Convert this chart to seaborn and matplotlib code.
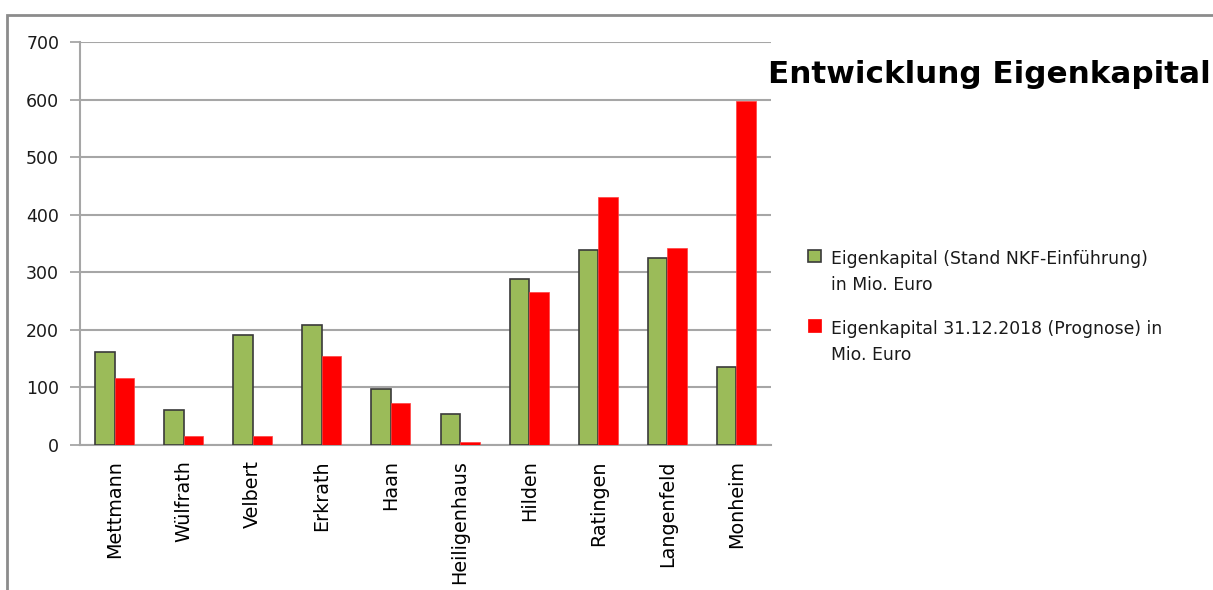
import matplotlib
matplotlib.use("Agg")
import matplotlib.pyplot as plt
from matplotlib.patches import Patch, Rectangle
from matplotlib.legend_handler import HandlerPatch
import seaborn as sns
import pandas as pd

staedte = ["Mettmann", "Wülfrath", "Velbert", "Erkrath", "Haan",
           "Heiligenhaus", "Hilden", "Ratingen", "Langenfeld", "Monheim"]
eigenkapital_nkf = [162, 61, 191, 209, 98, 53, 289, 338, 324, 136]
eigenkapital_2018 = [116, 16, 16, 155, 73, 5, 265, 430, 342, 598]
serie_labels = ["Eigenkapital (Stand NKF-Einführung)\nin Mio. Euro",
                "Eigenkapital 31.12.2018 (Prognose) in\nMio. Euro"]
y_ticks = [0, 100, 200, 300, 400, 500, 600, 700]
titel = "Entwicklung Eigenkapital"

GREEN = "#9BBB59"
RED = "#FF0000"
GRAY = "#A6A6A6"

df = pd.DataFrame({
    "Stadt": staedte * 2,
    "Wert": eigenkapital_nkf + eigenkapital_2018,
    "Serie": [serie_labels[0]] * len(staedte) + [serie_labels[1]] * len(staedte),
})

sns.set_style("white")
plt.rcParams["font.family"] = ["DejaVu Sans"]

fig = plt.figure(figsize=(12.13, 5.90), dpi=100)
ax = fig.add_axes([80 / 1213, 1 - 445 / 590, (771 - 80) / 1213, (445 - 42) / 590])

sns.barplot(data=df, x="Stadt", y="Wert", hue="Serie", palette=[GREEN, RED],
            width=0.565, saturation=1, ax=ax, legend=False, zorder=3)

for bar in ax.containers[0]:
    bar.set_edgecolor("#3A3A3A")
    bar.set_linewidth(1.2)
for bar in ax.containers[1]:
    bar.set_edgecolor("#FF4040")
    bar.set_linewidth(0.5)

ax.set_xlim(-0.5, len(staedte) - 0.5)
ax.set_ylim(0, 700)
ax.set_yticks(y_ticks)
ax.set_yticklabels([str(v) for v in y_ticks], fontsize=12.5, color="#1A1A1A")
ax.set_xlabel("")
ax.set_ylabel("")
ax.set_xticks(range(len(staedte)))
ax.set_xticklabels(staedte, rotation=90, fontsize=13.8, color="#000000", va="top")
ax.set_xticks([i - 0.5 for i in range(len(staedte) + 1)], minor=True)
ax.tick_params(axis="x", which="major", length=0, pad=11)
ax.tick_params(axis="x", which="minor", length=6, width=1.3, color=GRAY, direction="out")
ax.tick_params(axis="y", length=7, width=1.3, color=GRAY, direction="out", pad=8, left=True)

ax.yaxis.grid(True, color=GRAY, linewidth=1.5, zorder=0)
ax.xaxis.grid(False)
ax.set_axisbelow(True)
for s in ["top", "right"]:
    ax.spines[s].set_visible(False)
for s in ["left", "bottom"]:
    ax.spines[s].set_color(GRAY)
    ax.spines[s].set_linewidth(1.5)

fig.text(768 / 1213, 1 - 83 / 590, titel, fontsize=22.3, fontweight="bold",
         ha="left", va="baseline", color="#000000")


def top_box(legend, orig_handle, xdescent, ydescent, width, height, fontsize):
    return Rectangle((-xdescent, -ydescent + 12.5), width, height)


handles = [Patch(facecolor=GREEN, edgecolor="#3A3A3A", linewidth=1.2),
           Patch(facecolor=RED, edgecolor=RED, linewidth=0.5)]
leg = ax.legend(handles, serie_labels, loc="upper left",
                bbox_to_anchor=(808 / 1213, 1 - 250 / 590),
                bbox_transform=fig.transFigure, frameon=False,
                fontsize=12.4, handlelength=0.75, handleheight=0.75,
                handletextpad=0.6, labelspacing=1.47, borderaxespad=0,
                borderpad=0,
                handler_map={Patch: HandlerPatch(patch_func=top_box)})
for t in leg.get_texts():
    t.set_linespacing(1.6)
    t.set_color("#1A1A1A")

fig.patches.append(Rectangle((7 / 1213, -0.2), 1.5, 1.2 - 15 / 590,
                             transform=fig.transFigure, fill=False,
                             edgecolor="#8C8C8C", linewidth=2, zorder=10))

fig.savefig("out.png", dpi=100)
